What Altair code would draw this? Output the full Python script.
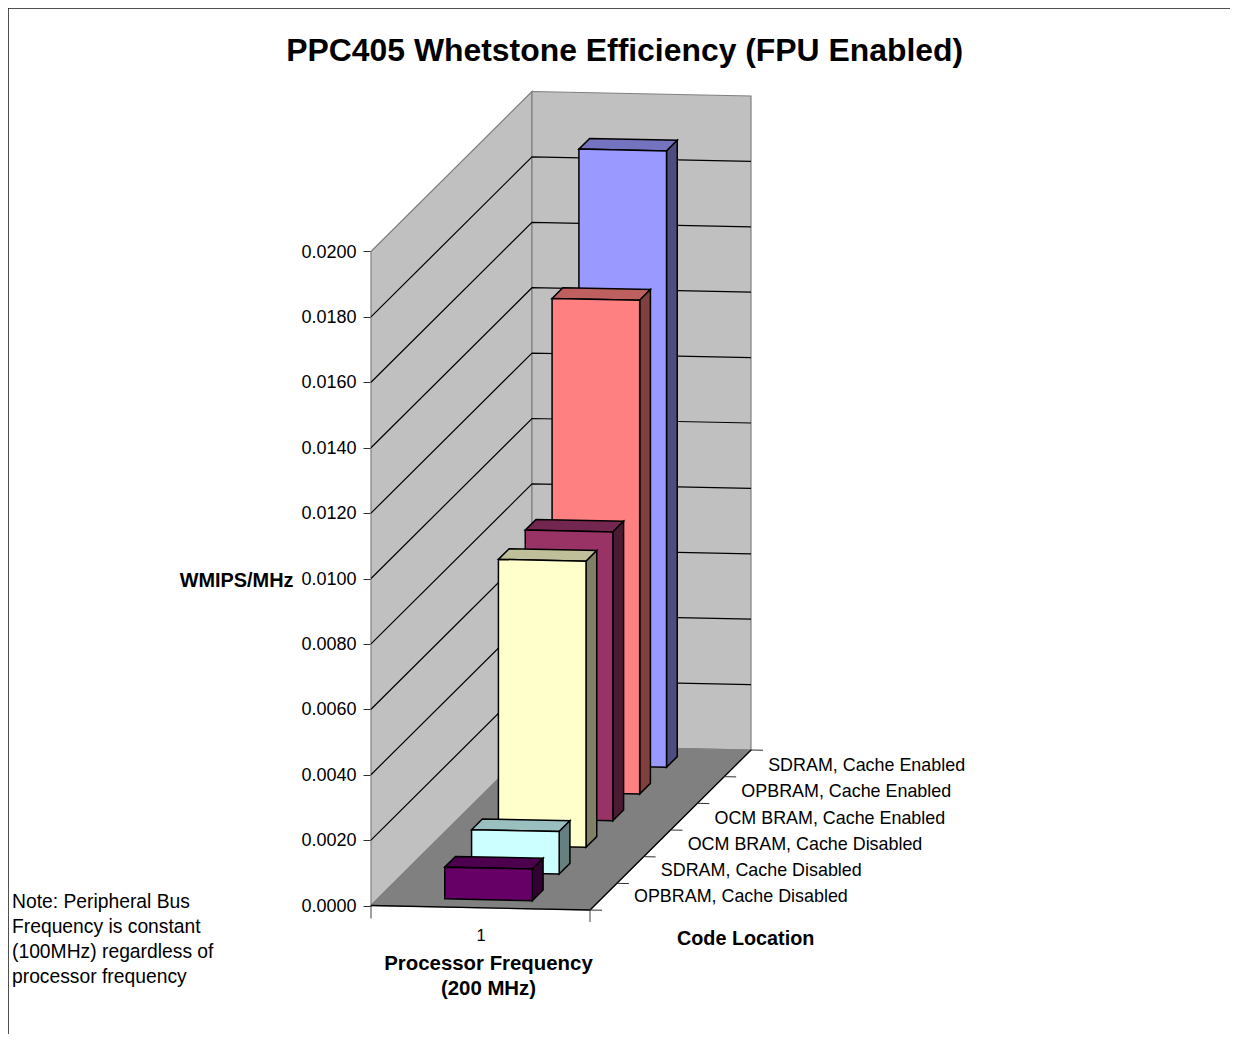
import altair as alt
import pandas as pd

# ---- chart values ----
categories = ["OPBRAM, Cache Disabled", "SDRAM, Cache Disabled", "OCM BRAM, Cache Disabled",
              "OCM BRAM, Cache Enabled", "OPBRAM, Cache Enabled", "SDRAM, Cache Enabled"]
values = [0.00097, 0.00130, 0.00875, 0.00883, 0.01510, 0.01885]
front_colors = ["#660066", "#CCFFFF", "#FFFFCC", "#993366", "#FF8080", "#9999FF"]
top_colors = ["#4D004D", "#99BFBF", "#BFBF99", "#732650", "#BF6060", "#7373BF"]
side_colors = ["#330033", "#668080", "#808066", "#4D1A33", "#804040", "#4D4D80"]
y_ticks = [round(0.002 * i, 4) for i in range(11)]
note_lines = ["Note: Peripheral Bus", "Frequency is constant", "(100MHz) regardless of", "processor frequency"]

FONT = "Liberation Sans"
W, H = 1222, 1026
OX, OY = 8, 8           # page margin
AX0, AY0 = 371, 905.5   # page position of the chart's origin corner
WIDE_X, WIDE_Y = 219, 4.5   # projected run of the width axis
DEEP_X, DEEP_Y = 161, 160   # projected run of the depth axis
PXV = 654 / 0.02        # pixels per unit of value
VMAX = 0.02
BAR_LO, BAR_HI = 0.3, 0.7


def X(w, d):
    return w + d * DEEP_X / WIDE_X


def Y(v, w, d):
    return v - (WIDE_Y * w - DEEP_Y * d) / PXV


def slices(poly):
    """Turn a convex polygon into vertical slices usable by an area mark."""
    xs = sorted({round(p[0], 9) for p in poly})
    out = []
    n = len(poly)
    for x in xs:
        ys = []
        for i in range(n):
            (x1, y1), (x2, y2) = poly[i], poly[(i + 1) % n]
            lo, hi = min(x1, x2), max(x1, x2)
            if lo - 1e-9 <= x <= hi + 1e-9:
                if abs(x2 - x1) < 1e-9:
                    ys += [y1, y2]
                else:
                    ys.append(y1 + (y2 - y1) * (x - x1) / (x2 - x1))
        out.append((x, max(ys), min(ys)))
    return out


def face(rows, pid, corners, fill, stroke):
    poly = [(X(w, d), Y(v, w, d)) for w, d, v in corners]
    for x, y, y2 in slices(poly):
        rows.append(dict(pid=pid, x=x, y=y, y2=y2, fill=fill, stroke=stroke))


x_scale = alt.Scale(domain=[(OX - AX0) / WIDE_X, (OX + W - AX0) / WIDE_X], nice=False, zero=False)
y_scale = alt.Scale(domain=[(AY0 - OY - H) / PXV, (AY0 - OY) / PXV], nice=False, zero=False)

# the real axes: the value axis is pulled in to the left wall, the width axis up under the floor
x_axis = alt.Axis(
    values=[0.5], labelExpr="'1'", ticks=False, domain=False, grid=False,
    labelFont=FONT, labelFontSize=16.5, labelColor="#000000", labelPadding=2,
    offset=-(OY + H - 925),
    title=["Processor Frequency", "(200 MHz)"], titleFont=FONT, titleFontSize=20.4,
    titleFontWeight="bold", titleColor="#000000", titleLineHeight=25,
    titleX=488 - OX, titleY=28, titleAlign="center", titleBaseline="top", titleAnchor="start",
)
y_axis = alt.Axis(
    values=y_ticks, format=".4f", tickSize=8, tickColor="#303030", tickWidth=1, domain=False, grid=False,
    labelFont=FONT, labelFontSize=18, labelColor="#000000", labelPadding=7, labelOffset=0.5,
    offset=-(AX0 - OX),
    title="WMIPS/MHz", titleFont=FONT, titleFontSize=19.9, titleFontWeight="bold", titleColor="#000000",
    titleAngle=0, titleAlign="right", titleBaseline="middle", titleX=293 - AX0, titleY=580 - OY,
)
X_ENC = alt.X("x:Q", scale=x_scale, axis=x_axis)
Y_ENC = alt.Y("y:Q", scale=y_scale, axis=y_axis)


def area_layer(rows, width=1.2):
    return alt.Chart(pd.DataFrame(rows)).mark_area(orient="vertical", strokeWidth=width, strokeJoin="miter").encode(
        x=X_ENC,
        y=Y_ENC,
        y2="y2:Q",
        fill=alt.Fill("fill:N", scale=None),
        stroke=alt.Stroke("stroke:N", scale=None),
        detail="pid:N",
    )


def line_layer(segs, color, width):
    rows = []
    for k, seg in enumerate(segs):
        for j, (w, d, v) in enumerate(seg):
            rows.append(dict(k=k, j=j, x=X(w, d), y=Y(v, w, d)))
    return alt.Chart(pd.DataFrame(rows)).mark_line(color=color, strokeWidth=width).encode(
        x=X_ENC,
        y=Y_ENC,
        detail="k:N",
        order="j:Q",
    )


# walls and floor
walls = []
face(walls, 0, [(0, 0, 0), (0, 0, VMAX), (0, 1, VMAX), (0, 1, 0)], "#C0C0C0", "#808080")
face(walls, 1, [(0, 1, 0), (0, 1, VMAX), (1, 1, VMAX), (1, 1, 0)], "#C0C0C0", "#808080")
floor = []
face(floor, 2, [(0, 0, 0), (1, 0, 0), (1, 1, 0), (0, 1, 0)], "#808080", "#808080")

grid = [[(0, 0, v), (0, 1, v), (1, 1, v)] for v in y_ticks[1:-1]]
floor_edges = [[(0, 0, 0), (1, 0, 0), (1, 1, 0)]]

# bars: back to front, each cell is one sixth of the depth
bars = []
pid = 0
for i in reversed(range(len(values))):
    v = values[i]
    d0, d1 = (i + BAR_LO) / 6, (i + BAR_HI) / 6
    w0, w1 = BAR_LO, BAR_HI
    face(bars, pid, [(w0, d0, v), (w1, d0, v), (w1, d1, v), (w0, d1, v)], top_colors[i], "#000000")
    face(bars, pid + 1, [(w1, d0, 0), (w1, d0, v), (w1, d1, v), (w1, d1, 0)], side_colors[i], "#000000")
    face(bars, pid + 2, [(w0, d0, 0), (w0, d0, v), (w1, d0, v), (w1, d0, 0)], front_colors[i], "#000000")
    pid += 3

# ticks under the floor
TICK_W = 12 / WIDE_X
depth_ticks = [[(1, i / 6, 0), (1 + TICK_W, i / 6, 0)] for i in range(7)]
corner_ticks = [[(0, 0, 0), (0, 0, -13 / PXV)], [(1, 0, 0), (1, 0, -12 / PXV)]]

# category labels along the depth axis
cat_rows = [dict(label=c, x=X(1, (i + 0.5) / 6) + 30.6 / WIDE_X,
                 y=Y(0, 1, (i + 0.5) / 6) + (-0.8 - 0.4 * i) / PXV)
            for i, c in enumerate(categories)]
cat_text = alt.Chart(pd.DataFrame(cat_rows)).mark_text(align="left", baseline="middle", font=FONT, fontSize=17.9, color="#000000").encode(
    x=X_ENC,
    y=Y_ENC,
    text="label:N",
)

code_title = alt.Chart(pd.DataFrame({"t": ["Code Location"]})).mark_text(
    align="left", baseline="middle", font=FONT, fontSize=19.8, fontWeight="bold", color="#000000"
).encode(x=alt.value(677 - OX), y=alt.value(939 - OY), text="t:N")

note_df = pd.DataFrame({"t": note_lines, "n": range(len(note_lines))})
note = alt.Chart(note_df).mark_text(align="left", baseline="middle", font=FONT, fontSize=19.3, color="#000000").transform_calculate(
    py=f"{902 - OY} + 25 * datum.n"
).encode(x=alt.value(12 - OX), y=alt.Y("py:Q", scale=None), text="t:N")

frame_left = alt.Chart(pd.DataFrame({"a": [0]})).mark_rule(color="#202020", strokeWidth=1.5).encode(
    x=alt.value(0), y=alt.value(0), y2=alt.value(H))
frame_top = alt.Chart(pd.DataFrame({"a": [0]})).mark_rule(color="#202020", strokeWidth=1.5).encode(
    y=alt.value(0), x=alt.value(0), x2=alt.value(W))

chart = alt.layer(
    area_layer(walls),
    area_layer(floor),
    line_layer(grid, "#000000", 1.2),
    line_layer(floor_edges, "#000000", 1.3),
    area_layer(bars, 1.5),
    line_layer(depth_ticks, "#303030", 1),
    line_layer(corner_ticks, "#404040", 1),
    cat_text,
    code_title,
    note,
    frame_left,
    frame_top,
).properties(
    width=W, height=H, padding=0,
    autosize=alt.AutoSizeParams(type="none"),
    title=alt.TitleParams(
        text="PPC405 Whetstone Efficiency (FPU Enabled)", font=FONT, fontSize=31.9, fontWeight="bold", color="#000000",
        anchor="start", dx=287 - OX, offset=-76, baseline="middle", orient="top",
    ),
).configure_view(stroke=None).configure(background="#FFFFFF")

chart.save("out.html", embed_options={"renderer": "svg", "actions": False})
